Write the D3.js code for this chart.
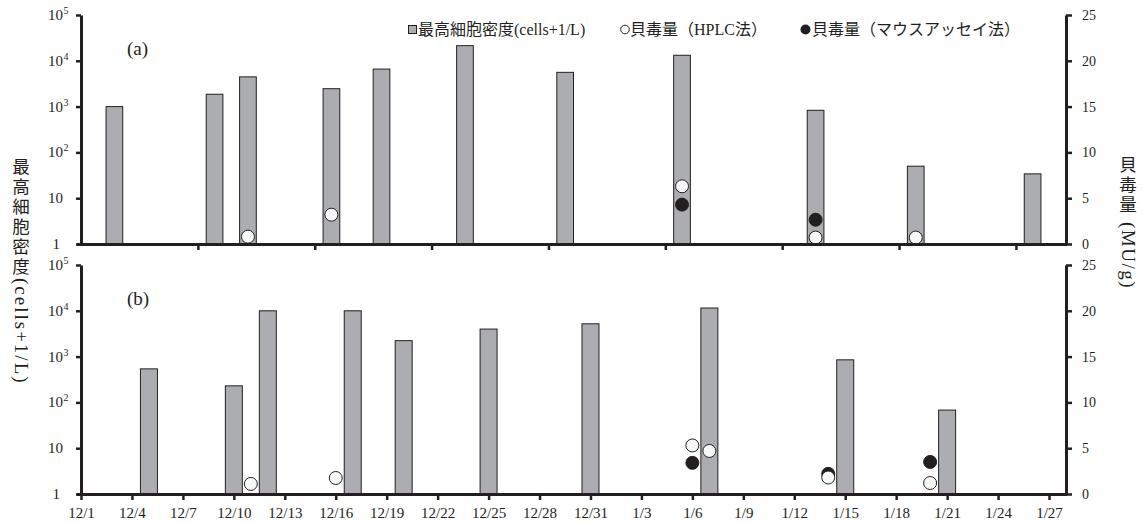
<!DOCTYPE html>
<html><head><meta charset="utf-8">
<script src="https://cdn.jsdelivr.net/npm/d3@7"></script>
<style>
html,body{margin:0;padding:0;background:#fff;}
svg{display:block;}
text{font-family:"Liberation Serif","Noto Sans CJK JP",serif;fill:#231f20;}
</style></head>
<body>
<svg id="chart" width="1143" height="524"></svg>
<script>
// ---------- data ----------
const topBarDates = ["12/3","12/9","12/11","12/16","12/19","12/24","12/30","1/6","1/14","1/20","1/27"];
const topBarCells = [1000,1860,4460,2460,6600,21400,5600,13200,830,50,34];
const topHplcDates = ["12/11","12/16","1/6","1/14","1/20"];
const topHplcValues = [0.8,3.2,6.3,0.7,0.7];
const topMouseDates = ["1/6","1/14"];
const topMouseValues = [4.3,2.65];

const botBarDates = ["12/5","12/10","12/12","12/17","12/20","12/25","12/31","1/7","1/15","1/21"];
const botBarCells = [540,230,10000,10000,2230,3990,5200,11500,850,68];
const botHplcDates = ["12/11","12/16","1/6","1/7","1/14","1/20"];
const botHplcValues = [1.1,1.75,5.3,4.7,1.8,1.2];
const botMouseDates = ["1/6","1/14","1/20"];
const botMouseValues = [3.4,2.2,3.5];

const xTickLabels = ["12/1","12/4","12/7","12/10","12/13","12/16","12/19","12/22","12/25","12/28","12/31","1/3","1/6","1/9","1/12","1/15","1/18","1/21","1/24","1/27"];
const topWeekTicks = ["12/8","12/15","12/22","12/29","1/5","1/12","1/19","1/26"];
const logTicks = [1,10,100,1000,10000,100000];
const rightTicks = [0,5,10,15,20,25];

const legendLabels = ["最高細胞密度(cells+1/L)","貝毒量（HPLC法）","貝毒量（マウスアッセイ法）"];
const leftTitleJa = "最高細胞密度";
const leftTitleLat = "(cells+1/L)";
const rightTitleJa = "貝毒量";
const rightTitleLat = "(MU/g)";

// ---------- helpers ----------
function parseMD(s){
  const [m,d] = s.split("/").map(Number);
  return new Date(Date.UTC(m===12?2010:2011, m-1, d));
}
const INK = "#231f20";
const BAR = "#abadb0";
const svg = d3.select("#chart");

function drawPanel(opt){
  const {top, bottom, xEnd, bars, hplc, mouse, label, ticksLabeled} = opt;
  const left = 81, right = 1066;
  const x = d3.scaleUtc().domain([parseMD("12/1"), parseMD(xEnd)]).range([left, right]);
  const yL = d3.scaleLog().domain([1,1e5]).range([bottom, top]);
  const yR = d3.scaleLinear().domain([0,25]).range([bottom, top]);
  const g = svg.append("g");
  const bw = x(parseMD("12/2")) - x(parseMD("12/1"));

  // bars
  g.selectAll("rect.bar").data(bars).join("rect")
    .attr("x", d => x(parseMD(d.date)) - bw/2)
    .attr("y", d => yL(d.v))
    .attr("width", bw)
    .attr("height", d => yL(1) - yL(d.v))
    .attr("fill", BAR).attr("stroke", INK).attr("stroke-width", 1);

  // mouse (filled) then hplc (open)
  g.selectAll("circle.m").data(mouse).join("circle")
    .attr("cx", d => x(parseMD(d.date))).attr("cy", d => yR(d.v)).attr("r", 6.5)
    .attr("fill", INK).attr("stroke", INK).attr("stroke-width", 1);
  g.selectAll("circle.h").data(hplc).join("circle")
    .attr("cx", d => x(parseMD(d.date))).attr("cy", d => yR(d.v)).attr("r", 6.5)
    .attr("fill", "#f6f8f7").attr("stroke", INK).attr("stroke-width", 1);

  // left axis
  const aL = g.append("g").attr("transform", `translate(${left},0)`)
    .call(d3.axisLeft(yL).tickValues(logTicks).tickFormat("").tickSize(5).tickSizeOuter(0));
  aL.select(".domain").attr("stroke", INK).attr("stroke-width", 3);
  aL.selectAll(".tick line").attr("stroke", INK).attr("stroke-width", 2.5);
  logTicks.forEach(v => {
    const yy = yL(v) + 5;
    const e = Math.round(Math.log10(v));
    if (e < 2) {
      g.append("text").attr("x", e===0 ? 60 : 63).attr("y", yy)
        .attr("text-anchor","end").attr("font-size", 15).text(String(v));
    } else {
      g.append("text").attr("x", 63).attr("y", yy)
        .attr("text-anchor","end").attr("font-size", 15).text("10");
      g.append("text").attr("x", 63.5).attr("y", yy - 6)
        .attr("text-anchor","start").attr("font-size", 10).text(String(e));
    }
  });

  // right axis
  const aR = g.append("g").attr("transform", `translate(${right},0)`)
    .call(d3.axisRight(yR).tickValues(rightTicks).tickSize(6).tickSizeOuter(0).tickPadding(10));
  aR.select(".domain").attr("stroke", INK).attr("stroke-width", 3);
  aR.selectAll(".tick line").attr("stroke", INK).attr("stroke-width", 2.5);
  aR.selectAll(".tick text").attr("font-size", 14).attr("fill", INK)
    .style("font-family", "Liberation Serif");

  // bottom axis
  const tickDates = (ticksLabeled ? xTickLabels : topWeekTicks).map(parseMD);
  const aB = g.append("g").attr("transform", `translate(0,${bottom})`)
    .call(d3.axisBottom(x).tickValues(tickDates).tickSize(6).tickSizeOuter(0).tickPadding(7)
      .tickFormat(ticksLabeled ? (d => `${d.getUTCMonth()+1}/${d.getUTCDate()}`) : ""));
  aB.select(".domain").attr("stroke", INK).attr("stroke-width", 3)
    .attr("d", `M${left-4},0.5H${right+1}`);
  aB.selectAll(".tick line").attr("stroke", INK).attr("stroke-width", 2.5);
  aB.selectAll(".tick text").attr("font-size", 15).attr("fill", INK)
    .style("font-family", "Liberation Serif");

  // panel label
  g.append("text").attr("x", 127).attr("y", top + 40).attr("font-size", 19).text(label);
}

drawPanel({
  top: 15, bottom: 244, xEnd: "1/29", label: "(a)", ticksLabeled: false,
  bars: topBarDates.map((d,i)=>({date:d, v:topBarCells[i]})),
  hplc: topHplcDates.map((d,i)=>({date:d, v:topHplcValues[i]})),
  mouse: topMouseDates.map((d,i)=>({date:d, v:topMouseValues[i]}))
});
drawPanel({
  top: 265, bottom: 494, xEnd: "1/28", label: "(b)", ticksLabeled: true,
  bars: botBarDates.map((d,i)=>({date:d, v:botBarCells[i]})),
  hplc: botHplcDates.map((d,i)=>({date:d, v:botHplcValues[i]})),
  mouse: botMouseDates.map((d,i)=>({date:d, v:botMouseValues[i]}))
});

// legend
const lg = svg.append("g");
lg.append("rect").attr("x", 408.5).attr("y", 25.5).attr("width", 8).attr("height", 8)
  .attr("fill", BAR).attr("stroke", INK).attr("stroke-width", 1);
lg.append("text").attr("x", 418).attr("y", 35).attr("font-size", 16).text(legendLabels[0]);
lg.append("circle").attr("cx", 625).attr("cy", 29.5).attr("r", 4.3)
  .attr("fill", "#fff").attr("stroke", INK).attr("stroke-width", 1);
lg.append("text").attr("x", 630).attr("y", 35).attr("font-size", 16).text(legendLabels[1]);
lg.append("circle").attr("cx", 805.5).attr("cy", 29.5).attr("r", 5)
  .attr("fill", INK);
lg.append("text").attr("x", 812).attr("y", 35).attr("font-size", 16).text(legendLabels[2]);

// axis titles (vertical: upright CJK glyphs stacked, Latin part rotated)
function verticalTitle(cx, yTop, ja, lat, latStart, spacing){
  const t = svg.append("g");
  const tx = t.append("text").attr("text-anchor","middle").attr("font-size", 17.5);
  tx.selectAll("tspan").data(Array.from(ja)).join("tspan")
    .attr("x", cx).attr("y", (d,i) => yTop + 20*i + 15.5).text(d => d);
  t.append("text")
    .attr("transform", `translate(${cx},${latStart}) rotate(90)`)
    .attr("x", 0).attr("y", 0).attr("dominant-baseline","central")
    .attr("font-size", 19).attr("letter-spacing", spacing).text(lat);
}
verticalTitle(21, 157, leftTitleJa, leftTitleLat, 278, 2);
verticalTitle(1128, 155, rightTitleJa, rightTitleLat, 222, 1.5);
</script>
</body></html>
